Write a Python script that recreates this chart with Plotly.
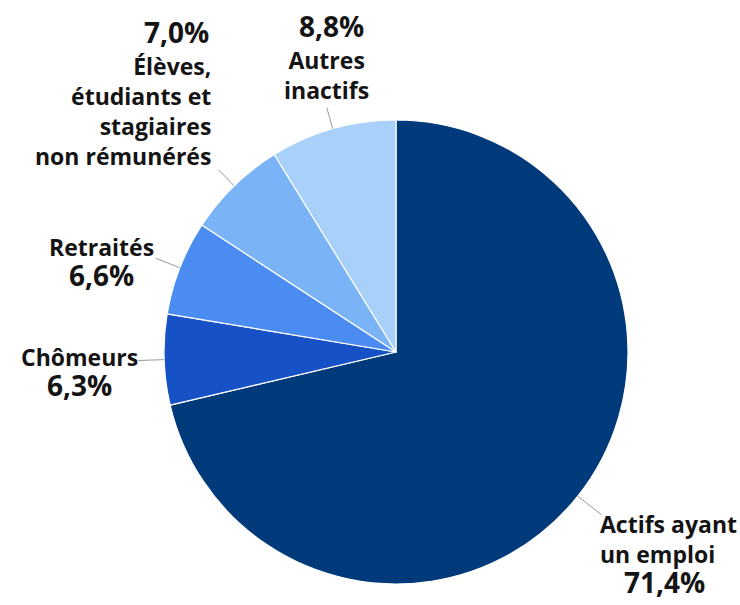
import math
import plotly.graph_objects as go

categories = ["Actifs ayant un emploi", "Chômeurs", "Retraités",
              "Élèves, étudiants et stagiaires non rémunérés", "Autres inactifs"]
values = [71.4, 6.3, 6.6, 7.0, 8.8]
label_texts = ["Actifs ayant<br>un emploi", "Chômeurs", "Retraités",
               "Élèves,<br>étudiants et<br>stagiaires<br>non rémunérés", "Autres<br>inactifs"]
pct_texts = ["71,4%", "6,3%", "6,6%", "7,0%", "8,8%"]
colors = ["#003A7A", "#1652C6", "#4A8CF2", "#7AB4F6", "#A8D0F9"]

W, H = 740, 605
CX, CY, R = 396, 352, 232

def px(x):
    return x / W

def py(y):
    return 1 - y / H

fig = go.Figure(go.Pie(
    labels=categories, values=values, sort=False, direction="clockwise",
    rotation=0, textinfo="none", hoverinfo="label+percent",
    marker=dict(colors=colors, line=dict(color="white", width=1.2)),
    domain=dict(x=[px(CX - R), px(CX + R)], y=[py(CY + R), py(CY - R)]),
    showlegend=False,
))

# leader lines at each slice's mid-angle (derived from data)
total = sum(values)
lens = [30, 26, 26, 22, 22]
start = 0.0
shapes = []
for v, L in zip(values, lens):
    mid = start + v / total * 360 / 2
    start += v / total * 360
    a = math.radians(mid)
    x0, y0 = CX + R * math.sin(a), CY - R * math.cos(a)
    x1, y1 = CX + (R + L) * math.sin(a), CY - (R + L) * math.cos(a)
    shapes.append(dict(type="line", xref="paper", yref="paper",
                       x0=px(x0), y0=py(y0), x1=px(x1), y1=py(y1),
                       line=dict(color="#9a9a9a", width=1)))

FONT = "Open Sans"
TXT = "#141414"
LS, PS = 23, 28

def big(t):
    return "<span style='font-size:%dpx'>%s</span>" % (PS, t)

annotations = []

def ann(text, x, y, xa, ya="middle", size=LS):
    annotations.append(dict(text="<b>%s</b>" % text, x=px(x), y=py(y), xref="paper", yref="paper",
                            xanchor=xa, yanchor=ya, align=xa, showarrow=False,
                            font=dict(family=FONT, size=size, color=TXT)))

# Actifs: two label lines left-aligned, percentage line indented
ann(label_texts[0] + "<br>&nbsp;&nbsp;&nbsp;&nbsp;" + big(pct_texts[0]), 598, 603, "left", "bottom")
# Chômeurs / Retraités: label above percentage, centred
ann(label_texts[1] + "<br>" + big(pct_texts[1]), 79, 372, "center")
ann(label_texts[2] + "<br>" + big(pct_texts[2]), 101, 262, "center")
# Élèves: percentage above label, right-aligned
ann(pct_texts[3], 211, 32, "right", size=PS)
ann(label_texts[3], 213, 111, "right")
# Autres inactifs: percentage above label, centred
ann(pct_texts[4], 331, 26, "center", size=PS)
ann(label_texts[4], 326, 75, "center")

fig.update_layout(
    width=W, height=H, margin=dict(l=0, r=0, t=0, b=0),
    paper_bgcolor="white", plot_bgcolor="white",
    shapes=shapes, annotations=annotations,
)

fig.write_html("out.html")
